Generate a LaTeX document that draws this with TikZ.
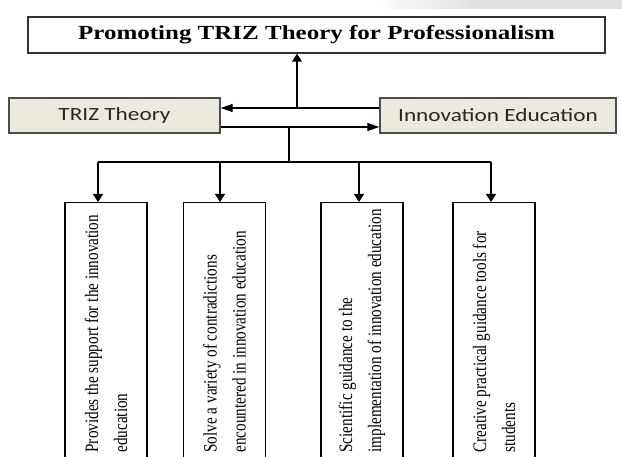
\documentclass[tikz,border=0pt]{standalone}
\usepackage{fontspec}
\usetikzlibrary{arrows.meta}
\newfontfamily\itemfont{Liberation Serif}
\newfontfamily\titlefont[FakeStretch=1.25]{Liberation Serif}
\newfontfamily\boxfont[FakeStretch=1.25]{Carlito}
\definecolor{boxfill}{RGB}{236,233,223}
\newcommand{\itemtext}[2]{\scalebox{0.8}[1]{\parbox[c]{302pt}{\itemfont\fontsize{19}{29}\selectfont\mbox{#1}\\\mbox{#2}}}}

\begin{document}
\begin{tikzpicture}[x=1pt,y=-1pt,
	line/.style={line width=1.3pt},
	arr/.style={line width=1.3pt,-{Triangle[length=8pt,width=10pt]}},
	harr/.style={line width=1.3pt,-{Triangle[length=12pt,width=8pt]}},
	goalbox/.style={draw=black!80,line width=1.4pt,minimum width=577pt,minimum height=36pt,inner sep=0pt,font=\titlefont\bfseries\fontsize{20}{24}\selectfont},
	themebox/.style={draw=black!70,fill=boxfill,line width=1.4pt,minimum height=35pt,inner sep=0pt,text=black!85,font=\boxfont\fontsize{18.6}{22}\selectfont},
	itembox/.style={draw,line width=1.4pt,rotate=90,anchor=east,minimum width=258pt,minimum height=82pt,inner sep=0pt}]
		\useasboundingbox (0,0) rectangle (622,457);
		\clip (0,0) rectangle (622,457);
		\shade [left color=white,right color=black!12] (370,0) rectangle (480,9);
		\fill [black!12] (480,0) rectangle (622,9);
		\node [goalbox] (goal) at (316.5,35) {Promoting TRIZ Theory for Professionalism};
		\node [themebox,minimum width=211pt] (triz) at (114.5,115.5) {TRIZ Theory};
		\node [themebox,minimum width=236pt] (ie) at (498,115.5) {Innovation Education};
		\node [itembox] (b1) at (106,202) {\itemtext{Provides the support for the innovation}{education}};
		\node [itembox] (b2) at (224.5,202) {\itemtext{Solve a variety of contradictions}{encountered in innovation education}};
		\node [itembox] (b3) at (362,202) {\itemtext{Scientific guidance to the}{implementation of innovation education}};
		\node [itembox] (b4) at (494,202) {\itemtext{Creative practical guidance tools for}{students}};
		\draw [harr] ([yshift=7.5pt]ie.west) -- ([yshift=7.5pt]triz.east);
		\draw [harr] ([yshift=-11.5pt]triz.east) -- ([yshift=-11.5pt]ie.west);
		\coordinate (up) at (297,108);
		\draw [arr] (up) -- (up |- goal.south);
		\coordinate (split) at (289,127);
		\coordinate (bus) at (289,162);
		\draw [line] (split) -- (bus);
		\foreach \b/\dx in {b1/-8,b2/-4.5,b3/-3,b4/-3} {
			\coordinate (t\b) at ([xshift=\dx pt]\b.east);
			\draw [arr] (t\b |- bus) -- (t\b);
		}
		\draw [line] (tb1 |- bus) -- (tb4 |- bus);
	\end{tikzpicture}
\end{document}
